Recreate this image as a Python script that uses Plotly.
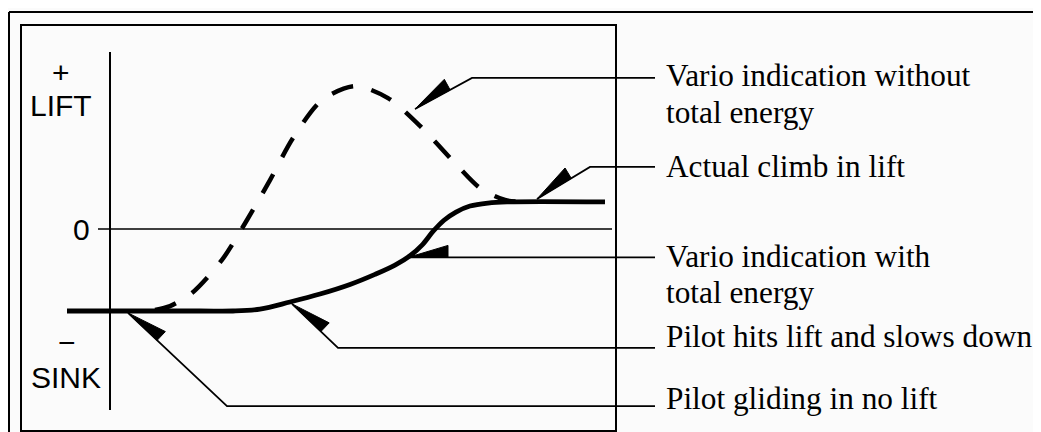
import plotly.graph_objects as go
import math

# ---- data (time units along x, vario reading along y; 0 = zero line) ----
te_t = [-8.6, 18.0, 24.6, 30.0, 36.0, 42.0, 48.0, 53.0, 57.0, 60.0, 62.4, 64.6, 66.8, 69.2, 72.0, 75.6, 79.4, 99.0]
te_v = [-3.0, -3.0, -3.0, -2.93, -2.67, -2.38, -2.03, -1.66, -1.32, -0.98, -0.59, -0.09, 0.32, 0.62, 0.84, 0.95, 0.99, 0.99]

nte_t = [9.0, 12.0, 16.4, 22.4, 27.4, 32.0, 36.6, 42.4, 49.0, 55.6, 62.4, 69.0, 74.0, 79.0, 83.0]
nte_v = [-2.96, -2.82, -2.34, -1.13, 0.33, 1.79, 3.33, 4.72, 5.23, 4.79, 3.70, 2.41, 1.5, 1.06, 0.99]

# callouts: tip on curve, elbow, label lines
callout_labels = [
    ["Vario indication without", "total energy"],
    ["Actual climb in lift"],
    ["Vario indication with", "total energy"],
    ["Pilot hits lift and slows down"],
    ["Pilot gliding in no lift"],
]
callout_tip_t = [61.0, 85.4, 59.6, 36.4, 3.6]
callout_tip_v = [4.39, 1.10, -1.04, -2.74, -3.07]
callout_elbow_t = [72.4, 96.0, None, 45.6, 23.4]
callout_elbow_v = [5.53, 2.27, None, -4.35, -6.48]
callout_end_t = 109.0
label_first_v = [5.60, 2.27, -0.99, -3.95, -6.22]
label_line_gap = 1.35

axis_labels = ["+", "LIFT", "0", "\u2212", "SINK"]
axis_label_t = [-9.8, -9.8, -5.8, -8.6, -8.8]
axis_label_v = [5.74, 4.52, 0.0, -4.17, -5.45]

# ---- figure geometry ----
W, H = 1041, 432
OFF = 8       # page body margin
SX = 5.0      # px per time unit
SY = 27.33    # px per vario unit
X0PX, Y0PX = 110 - OFF, 229 - OFF
xr = [-X0PX / SX, (W - X0PX) / SX]
yr = [-(H - Y0PX) / SY, Y0PX / SY]

fig = go.Figure()

# zero line and y axis line
fig.add_shape(type="line", x0=-2.4, x1=100.4, y0=0, y1=0, line=dict(color="black", width=1.5))
fig.add_shape(type="line", x0=0, x1=0, y0=(229 - 52) / SY, y1=(229 - 410) / SY,
              line=dict(color="black", width=2))

# frames (paper coordinates, given in page pixels)
def px(x):
    return (x - OFF) / W

def py(y):
    return 1 - (y - OFF) / H

fig.add_shape(type="line", xref="paper", yref="paper", x0=px(9), x1=px(1035), y0=py(12), y1=py(12),
              line=dict(color="black", width=2))
fig.add_shape(type="line", xref="paper", yref="paper", x0=px(9), x1=px(9), y0=py(12), y1=py(445),
              line=dict(color="black", width=2))
fig.add_shape(type="rect", xref="paper", yref="paper", x0=px(21), x1=px(616), y0=py(25), y1=py(431),
              line=dict(color="black", width=2))

# curves
fig.add_trace(go.Scatter(x=nte_t, y=nte_v, mode="lines",
                         line=dict(color="black", width=4.5, dash="22px,19px", shape="spline", smoothing=0.8),
                         hoverinfo="skip", showlegend=False))
fig.add_trace(go.Scatter(x=te_t, y=te_v, mode="lines",
                         line=dict(color="black", width=4.8, shape="spline", smoothing=1.0),
                         hoverinfo="skip", showlegend=False))

# callout leaders with half arrowheads
AL, AW = 40.0, 12.0
for i, lines in enumerate(callout_labels):
    tt, tv = callout_tip_t[i], callout_tip_v[i]
    et, ev = callout_elbow_t[i], callout_elbow_v[i]
    if et is None:
        et, ev = callout_end_t, tv
        xs, ys = [tt, callout_end_t], [tv, tv]
    else:
        xs, ys = [tt, et, callout_end_t], [tv, ev, ev]
    fig.add_trace(go.Scatter(x=xs, y=ys, mode="lines", line=dict(color="black", width=1.8),
                             hoverinfo="skip", showlegend=False))
    # arrowhead computed in pixel space
    dxp = (et - tt) * SX
    dyp = -(ev - tv) * SY
    n = math.hypot(dxp, dyp)
    ux, uy = dxp / n, dyp / n
    bx, by = AL * ux, AL * uy
    ox, oy = bx + AW * uy, by - AW * ux
    tri_t = [tt, tt + bx / SX, tt + ox / SX, tt]
    tri_v = [tv, tv - by / SY, tv - oy / SY, tv]
    fig.add_trace(go.Scatter(x=tri_t, y=tri_v, mode="lines", fill="toself", fillcolor="black",
                             line=dict(color="black", width=1), hoverinfo="skip", showlegend=False))
    for j, txt in enumerate(lines):
        fig.add_annotation(x=110.8, y=label_first_v[i] - j * label_line_gap, text=txt, showarrow=False,
                           xanchor="left", yanchor="middle",
                           font=dict(family="Liberation Serif", size=31.3, color="black"))

for txt, t, v in zip(axis_labels, axis_label_t, axis_label_v):
    fig.add_annotation(x=t, y=v, text=txt, showarrow=False, xanchor="center", yanchor="middle",
                       font=dict(family="Liberation Sans", size=30, color="black"))

fig.update_layout(
    width=W, height=H, margin=dict(l=0, r=0, t=0, b=0),
    paper_bgcolor="#fbfbfb", plot_bgcolor="#fbfbfb",
    xaxis=dict(range=xr, visible=False, fixedrange=True),
    yaxis=dict(range=yr, visible=False, fixedrange=True),
    showlegend=False,
)

fig.write_html("out.html")
